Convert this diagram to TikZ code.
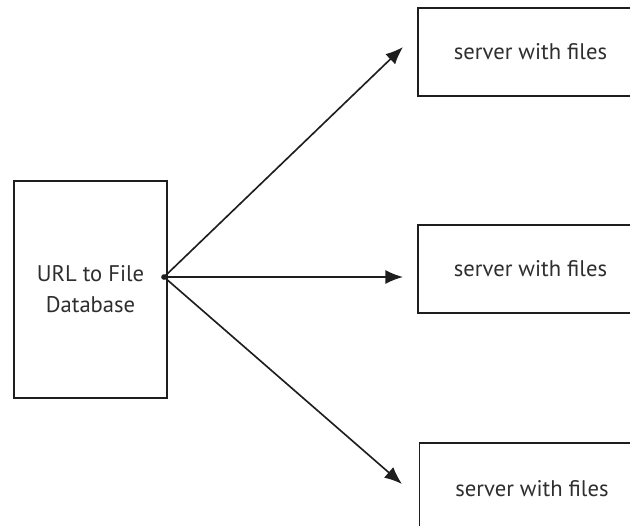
\documentclass[tikz,border=0pt]{standalone}
\usepackage{fontspec}
\setmainfont{PT Sans}
\usetikzlibrary{arrows.meta,positioning}
\definecolor{ink}{HTML}{1E1E1E}
\definecolor{txt}{HTML}{2E2E2E}

\begin{document}
\begin{tikzpicture}[x=0.03cm,y=-0.03cm,
  box/.style={draw=ink,line width=1.6pt,inner sep=0pt,text=txt,font=\fontsize{19.3}{26.5}\selectfont},
  srv/.style={box,minimum width=225*0.03cm,minimum height=88*0.03cm},
  arr/.style={draw=ink,line width=1.4pt,-{Latex[length=15pt,width=12pt]}}]
  \useasboundingbox (0,0) rectangle (630,526);
  \node[box,minimum width=153*0.03cm,minimum height=217*0.03cm,align=center] (db) at (90.5,289.5) {URL to File\\Database};
  \node[srv] (srvA) at (530.5,52) {server with files};
  \node[srv] (srvB) at (530.5,269) {server with files};
  \node[srv,minimum height=92*0.03cm] (srvC) at (532,489) {server with files};
  \coordinate (hub) at (164,277);
  \coordinate (tipA) at (403,47);
  \coordinate (tipB) at (403,277);
  \coordinate (tipC) at (402,484);
  \fill[ink] (hub) circle (2.4pt);
  \foreach \t in {tipA,tipB,tipC}
     \draw[arr] (hub) -- (\t);
\end{tikzpicture}
\end{document}
